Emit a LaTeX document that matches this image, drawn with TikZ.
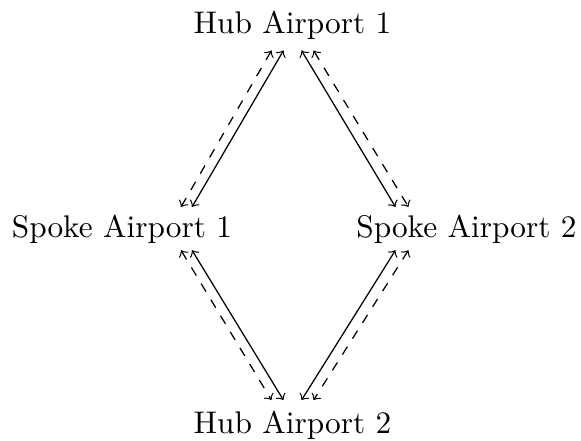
\documentclass[tikz,border=0pt]{standalone}

\begin{document}
\begin{tikzpicture}[x=0.3195pt, y=-0.3195pt]
    \tikzset{route/.style={<->}, backroute/.style={<->,dashed}}
    \useasboundingbox (0,0) rectangle (581,441);
    \node (hub1)   at (292.5, 25.2) {Hub Airport 1};
    \node (spoke1) at (122, 228.9)  {Spoke Airport 1};
    \node (spoke2) at (466.5, 228.9) {Spoke Airport 2};
    \node (hub2)   at (292.5, 425.5) {Hub Airport 2};

    \draw[route]     ([shift={(-9,0)}]hub1.south)  -- ([shift={(70,3.4)}]spoke1.north);
    \draw[backroute] ([shift={(-21,0)}]hub1.south) -- ([shift={(59,3.4)}]spoke1.north);
    \draw[route]     ([shift={(9,0)}]hub1.south)   -- ([shift={(-71,3.4)}]spoke2.north);
    \draw[backroute] ([shift={(21,0)}]hub1.south)  -- ([shift={(-58,3.4)}]spoke2.north);
    \draw[route]     ([shift={(70,-4)}]spoke1.south)  -- ([shift={(-9,0)}]hub2.north);
    \draw[backroute] ([shift={(59,-4)}]spoke1.south)  -- ([shift={(-21,0)}]hub2.north);
    \draw[route]     ([shift={(-71,-4)}]spoke2.south) -- ([shift={(9,0)}]hub2.north);
    \draw[backroute] ([shift={(-58,-4)}]spoke2.south) -- ([shift={(21,0)}]hub2.north);
\end{tikzpicture}
\end{document}
